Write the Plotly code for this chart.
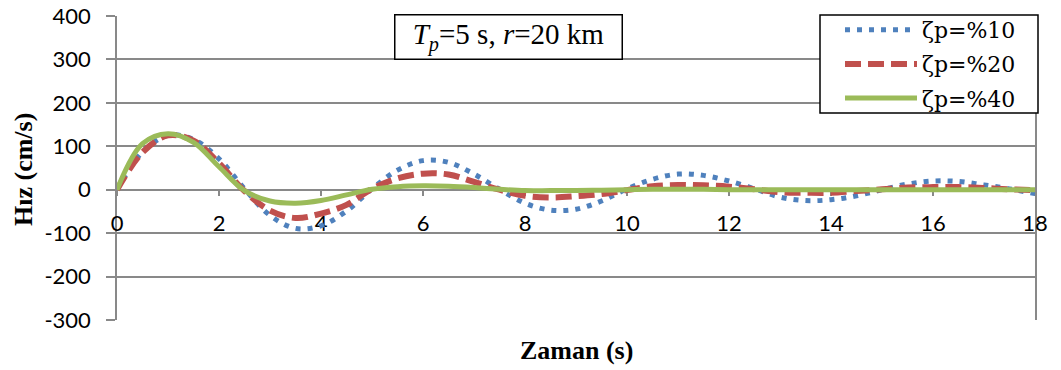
import plotly.graph_objects as go

# Time axis (s)
zaman = [0.0, 0.5, 1.0, 1.5, 2.0, 2.5, 3.0, 3.5, 4.0, 4.5, 5.0, 5.5, 6.0, 6.5,
         7.0, 7.5, 8.0, 8.5, 9.0, 9.5, 10.0, 10.5, 11.0, 11.5, 12.0, 12.5,
         13.0, 13.5, 14.0, 14.5, 15.0, 15.5, 16.0, 16.5, 17.0, 17.5, 18.0]

# Velocity response (cm/s) for each damping ratio
hiz_10 = [0, 87, 125, 116, 71, 2, -59, -89, -83, -49, 2, 45, 67, 63,
          36, 1, -31, -47, -45, -26, 2, 24, 36, 33, 20, 2,
          -17, -25, -23, -14, 0, 13, 20, 19, 11, 2, -9]
hiz_20 = [0, 86, 125, 113, 61, -3, -48, -65, -55, -35, 2, 26, 37, 35,
          18, 0, -14, -18, -15, -10, -1, 8, 11, 10, 7, 1,
          -6, -7, -7, -3, 1, 5, 6, 6, 4, 1, -1]
hiz_40 = [0, 106, 129, 109, 53, -2, -26, -31, -25, -12, 1, 7, 9, 8,
          5, 1, -2, -2, -2, -1, 0, 1, 1, 1, 0, 0,
          0, 0, 0, 0, 0, 0, 0, 0, 0, 0, 0]

series_names = ["ζp=%10", "ζp=%20", "ζp=%40"]

x_ticks = [0, 2, 4, 6, 8, 10, 12, 14, 16, 18]
y_ticks = [-300, -200, -100, 0, 100, 200, 300, 400]
y_tick_text = ["-300", "-200", "-100", "0", "100", "200", "300", "400"]

GRID = "#898989"

# plot area in pixels (left, right, top, bottom) used to place paper-referenced items
PX_L, PX_R, PX_T, PX_B = 117, 1035, 16, 320


def px_x(p):
    return (p - PX_L) / (PX_R - PX_L)


def px_y(p):
    return (PX_B - p) / (PX_B - PX_T)


fig = go.Figure()
fig.add_trace(go.Scatter(
    x=zaman, y=hiz_10, name=series_names[0], mode="lines", legendgroup="g10",
    line=dict(color="#4F81BD", width=5, dash="5px,7px", shape="spline", smoothing=1.0)))
fig.add_trace(go.Scatter(
    x=zaman, y=hiz_20, name=series_names[1], mode="lines", legendgroup="g20",
    line=dict(color="#C0504D", width=6, dash="16px,7px", shape="spline", smoothing=1.0)))
fig.add_trace(go.Scatter(
    x=zaman, y=hiz_40, name=series_names[2], mode="lines", legendgroup="g40",
    line=dict(color="#9BBB59", width=5, shape="spline", smoothing=1.0)))

fig.update_layout(
    width=1061, height=370,
    margin=dict(l=PX_L, r=1061 - PX_R, t=PX_T, b=370 - PX_B, autoexpand=False),
    paper_bgcolor="white", plot_bgcolor="white",
    showlegend=True,
    legend=dict(
        x=px_x(840), y=px_y(9), xanchor="left", yanchor="top",
        bgcolor="rgba(0,0,0,0)", borderwidth=0,
        font=dict(family="DejaVu Serif", size=22, color="black"),
        itemwidth=72, tracegroupgap=2.5,
    ),
    xaxis=dict(
        range=[0, 18], tickvals=x_ticks,
        anchor="free", position=3 / 7,
        showline=True, linecolor=GRID, linewidth=1.5,
        ticks="outside", ticklen=6, tickwidth=1.5, tickcolor=GRID,
        ticklabelstandoff=8,
        showgrid=False, zeroline=False,
        tickfont=dict(family="Lato", size=22, color="black"),
        layer="below traces",
    ),
    yaxis=dict(
        range=[-300, 400], tickvals=y_ticks, ticktext=y_tick_text,
        domain=[0, 1],
        showline=True, mirror=True, linecolor=GRID, linewidth=1.5,
        ticks="outside", ticklen=9, tickwidth=1.5, tickcolor=GRID,
        ticklabelstandoff=11,
        showgrid=True, gridcolor=GRID, gridwidth=1.5, zeroline=False,
        tickfont=dict(family="Lato", size=22, color="black"),
        layer="below traces",
    ),
    shapes=[
        # legend frame
        dict(type="rect", xref="paper", yref="paper", layer="above",
             x0=px_x(820), x1=px_x(1038), y0=px_y(113), y1=px_y(15),
             fillcolor="white", line=dict(color="black", width=1.5)),
    ],
    annotations=[
        dict(text="<b>Zaman (s)</b>", xref="paper", yref="paper",
             x=0.5, y=px_y(350), xanchor="center", yanchor="middle", showarrow=False,
             font=dict(family="Liberation Serif", size=26, color="black")),
        dict(text="<b>Hız (cm/s)</b>", xref="paper", yref="paper",
             x=px_x(23), y=px_y(170), xanchor="center", yanchor="middle", showarrow=False,
             textangle=-90,
             font=dict(family="Liberation Serif", size=26, color="black")),
        dict(text="<i>T</i><sub><i>p</i></sub>=5 s, <i>r</i>=20 km",
             xref="paper", yref="paper",
             x=px_x(508), y=px_y(36.5),
             xanchor="center", yanchor="middle", showarrow=False,
             width=224, height=41,
             bgcolor="white", bordercolor="black", borderwidth=1.5,
             font=dict(family="Liberation Serif", size=29, color="black")),
    ],
)

fig.write_html("out.html")
